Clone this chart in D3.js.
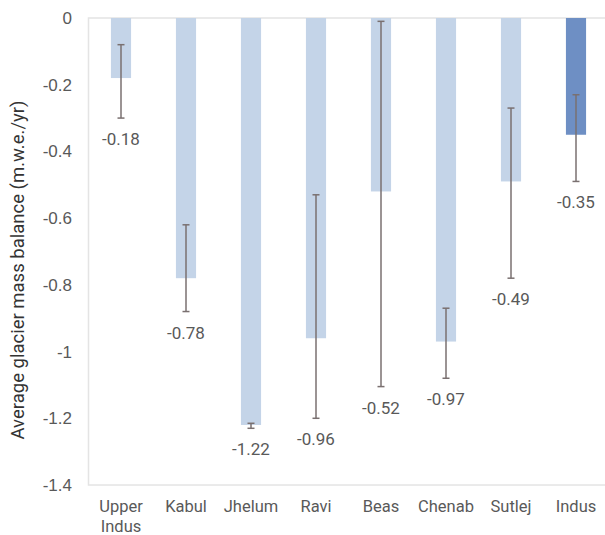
<!DOCTYPE html>
<html>
<head>
<meta charset="utf-8">
<script src="https://cdn.jsdelivr.net/npm/d3@7"></script>
<style>
  html, body { margin: 0; padding: 0; background: #fff; }
  svg { display: block; font-family: Roboto, "Noto Sans", sans-serif; }
</style>
</head>
<body>
<svg id="chart" width="605" height="535"></svg>
<script>
// Basins and their average glacier mass balance (m.w.e./yr)
const basins = ["Upper Indus", "Kabul", "Jhelum", "Ravi", "Beas", "Chenab", "Sutlej", "Indus"];
const massBalance = [-0.18, -0.78, -1.22, -0.96, -0.52, -0.97, -0.49, -0.35];
// Error bar bounds (upper and lower ends)
const errUpper = [-0.08, -0.62, -1.215, -0.53, -0.01, -0.87, -0.27, -0.23];
const errLower = [-0.30, -0.88, -1.23, -1.20, -1.105, -1.08, -0.78, -0.49];
const yTicks = [0, -0.2, -0.4, -0.6, -0.8, -1, -1.2, -1.4];

const data = basins.map((b, i) => ({
  basin: b, value: massBalance[i], hi: errUpper[i], lo: errLower[i], total: b === "Indus"
}));

const svg = d3.select("#chart");
const plot = { left: 88.5, right: 608.5, top: 18, bottom: 485 };
const textColor = "#595959";
const fontSize = "17px";

const x = d3.scaleBand()
  .domain(basins)
  .range([plot.left, plot.right])
  .paddingInner(0.69)
  .paddingOuter(0.345);

const y = d3.scaleLinear()
  .domain([0, -1.4])
  .range([plot.top, plot.bottom]);

// Plot frame
svg.append("rect")
  .attr("x", plot.left).attr("y", plot.top)
  .attr("width", plot.right - plot.left).attr("height", plot.bottom - plot.top)
  .attr("fill", "none").attr("stroke", "#e4e4e4").attr("stroke-width", 1.5);

// Y axis labels
const yAxis = d3.axisLeft(y)
  .tickValues(yTicks)
  .tickSize(0)
  .tickPadding(0)
  .tickFormat(d => d === 0 ? "0" : String(+d.toFixed(1)));

const gy = svg.append("g")
  .attr("transform", "translate(72,0)")
  .call(yAxis);
gy.select(".domain").remove();
gy.selectAll("text")
  .attr("fill", textColor)
  .style("font-size", fontSize);

// Y axis title
svg.append("text")
  .attr("transform", "translate(24,270) rotate(-90)")
  .attr("text-anchor", "middle")
  .attr("fill", "#333")
  .style("font-size", "18.5px")
  .text("Average glacier mass balance (m.w.e./yr)");

// Bars
svg.append("g").selectAll("rect")
  .data(data)
  .join("rect")
  .attr("x", d => x(d.basin))
  .attr("y", y(0))
  .attr("width", x.bandwidth())
  .attr("height", d => y(d.value) - y(0))
  .attr("fill", d => d.total ? "#6e8fc4" : "#c4d4e8");

// Error bars
const capHalf = 3.5;
const errG = svg.append("g")
  .attr("stroke", "#7a7070")
  .attr("stroke-width", 1.5);
data.forEach(d => {
  const cx = x(d.basin) + x.bandwidth() / 2;
  errG.append("line")
    .attr("x1", cx).attr("x2", cx)
    .attr("y1", y(d.hi)).attr("y2", y(d.lo));
  [d.hi, d.lo].forEach(v => {
    errG.append("line")
      .attr("x1", cx - capHalf).attr("x2", cx + capHalf)
      .attr("y1", y(v)).attr("y2", y(v));
  });
});

// Value labels below each bar / error bar
svg.append("g").selectAll("text")
  .data(data)
  .join("text")
  .attr("x", d => x(d.basin) + x.bandwidth() / 2)
  .attr("y", d => Math.max(y(d.value), y(d.lo)) + 27)
  .attr("text-anchor", "middle")
  .attr("fill", textColor)
  .style("font-size", fontSize)
  .text(d => d.value.toFixed(2));

// Category labels
const xLabels = svg.append("g").selectAll("text")
  .data(basins)
  .join("text")
  .attr("x", d => x(d) + x.bandwidth() / 2)
  .attr("y", 512)
  .attr("text-anchor", "middle")
  .attr("fill", textColor)
  .style("font-size", "16.5px");
xLabels.each(function(d) {
  const words = d.split(" ");
  const t = d3.select(this);
  words.forEach((w, i) => {
    t.append("tspan")
      .attr("x", t.attr("x"))
      .attr("dy", i === 0 ? 0 : 19.5)
      .text(w);
  });
});
</script>
</body>
</html>
